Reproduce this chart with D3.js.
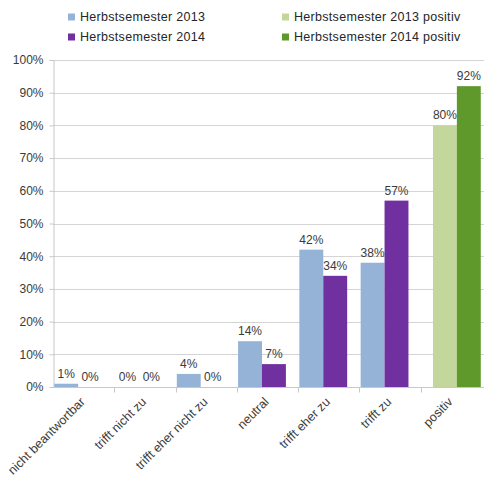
<!DOCTYPE html>
<html>
<head>
<meta charset="utf-8">
<script src="https://cdn.jsdelivr.net/npm/d3@7"></script>
<style>
  html, body { margin: 0; padding: 0; background: #fff; }
  svg { display: block; font-family: "Liberation Sans", Arial, sans-serif; }
</style>
</head>
<body>
<svg id="chart" width="484" height="479"></svg>
<script>
// Antwortkategorien und Werte (Prozent)
const categories = ["nicht beantwortbar", "trifft nicht zu", "trifft eher nicht zu", "neutral", "trifft eher zu", "trifft zu", "positiv"];
const hs2013 = [1, 0, 4, 14, 42, 38, null];
const hs2014 = [0, 0, 0, 7, 34, 57, null];
const hs2013Positiv = [null, null, null, null, null, null, 80];
const hs2014Positiv = [null, null, null, null, null, null, 92];
const yTicks = [0, 10, 20, 30, 40, 50, 60, 70, 80, 90, 100];
const seriesNames = ["Herbstsemester 2013", "Herbstsemester 2014", "Herbstsemester 2013 positiv", "Herbstsemester 2014 positiv"];

const colors = {
  "Herbstsemester 2013": "#95b3d7",
  "Herbstsemester 2014": "#7030a0",
  "Herbstsemester 2013 positiv": "#c3d69b",
  "Herbstsemester 2014 positiv": "#5f982b"
};

const svg = d3.select("#chart");
const plotLeft = 53, plotRight = 482, plotTop = 60, plotBottom = 387;

const x = d3.scaleBand().domain(categories).range([plotLeft, plotRight]).padding(0);
const y = d3.scaleLinear().domain([0, 100]).range([plotBottom, plotTop]);
const bw = x.bandwidth();
const barW = bw * 0.39;

// Gitternetzlinien
svg.append("g").selectAll("line").data(yTicks.filter(t => t > 0)).join("line")
  .attr("x1", plotLeft).attr("x2", 484)
  .attr("y1", d => Math.round(y(d)) + 0.5).attr("y2", d => Math.round(y(d)) + 0.5)
  .attr("stroke", "#d4d4d4").attr("stroke-width", 1);

// Y-Achse
const yAxis = svg.append("g").attr("transform", `translate(${plotLeft + 0.5},0)`)
  .call(d3.axisLeft(y).tickValues(yTicks).tickFormat(d => d + "%").tickSize(4).tickPadding(6));
yAxis.select(".domain").attr("stroke", "#c8c8c8");
yAxis.selectAll(".tick line").attr("stroke", "#c8c8c8");
yAxis.selectAll(".tick text").attr("font-size", 12).attr("fill", "#3a3a3a")
  .attr("font-family", "Liberation Sans, Arial, sans-serif");

// Balken: Reihen mit Versatz innerhalb der Kategorie
const bars = [];
categories.forEach((c, i) => {
  const pairs = c === "positiv"
    ? [[seriesNames[2], hs2013Positiv[i]], [seriesNames[3], hs2014Positiv[i]]]
    : [[seriesNames[0], hs2013[i]], [seriesNames[1], hs2014[i]]];
  const start = c === "positiv" ? bw * 0.2 : bw * 0.02;
  pairs.forEach(([s, v], j) => {
    if (v !== null) bars.push({ cat: c, series: s, value: v, x0: x(c) + start + j * barW });
  });
});

svg.append("g").selectAll("rect").data(bars).join("rect")
  .attr("x", d => d.x0).attr("width", barW)
  .attr("y", d => y(d.value)).attr("height", d => y(0) - y(d.value))
  .attr("fill", d => colors[d.series]);

// Wertbeschriftungen
svg.append("g").selectAll("text").data(bars).join("text")
  .attr("x", d => d.x0 + barW / 2)
  .attr("y", d => y(d.value) - 6)
  .attr("text-anchor", "middle")
  .attr("font-size", 12).attr("fill", "#3a3a3a")
  .text(d => d.value + "%");

// X-Achse
const xAxis = svg.append("g").attr("transform", `translate(0,${plotBottom + 0.5})`);
xAxis.append("line").attr("x1", plotLeft).attr("x2", 484).attr("stroke", "#c8c8c8");
xAxis.selectAll("line.tk").data(categories.slice(1)).join("line").attr("class", "tk")
  .attr("x1", d => Math.round(x(d)) + 0.5).attr("x2", d => Math.round(x(d)) + 0.5)
  .attr("y1", 0).attr("y2", 5).attr("stroke", "#c8c8c8");
xAxis.selectAll("text").data(categories).join("text")
  .attr("transform", d => `translate(${x(d) + bw / 2 - 1},${12}) rotate(-45)`)
  .attr("text-anchor", "end")
  .attr("dy", "0.35em")
  .attr("font-size", 12.5).attr("fill", "#3a3a3a")
  .text(d => d);

// Legende
const legendPos = [[68, 17], [68, 37], [282, 17], [282, 37]];
const legend = svg.append("g").selectAll("g").data(seriesNames).join("g")
  .attr("transform", (d, i) => `translate(${legendPos[i][0]},${legendPos[i][1]})`);
legend.append("rect").attr("x", 0).attr("y", -3.5).attr("width", 7).attr("height", 7)
  .attr("fill", d => colors[d]);
legend.append("text").attr("x", 12).attr("dy", "0.35em")
  .attr("font-size", 12.5).attr("fill", "#262626").attr("letter-spacing", 0.3)
  .text(d => d);
</script>
</body>
</html>
